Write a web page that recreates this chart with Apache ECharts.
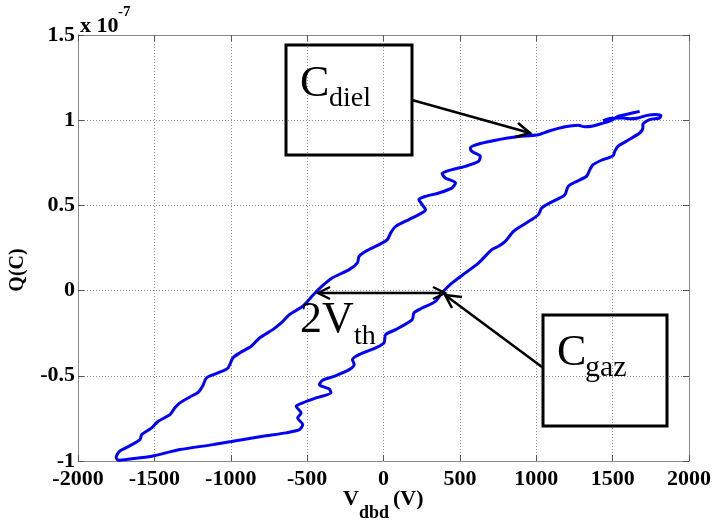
<!DOCTYPE html>
<html>
<head>
<meta charset="utf-8">
<script src="https://cdn.jsdelivr.net/npm/echarts@6/dist/echarts.min.js"></script>
<style>html,body{margin:0;padding:0;background:#fff;}#c{width:714px;height:520px;}</style>
</head>
<body>
<div id="c"></div>
<script>
// Vdbd (V)
var voltage = [1437,1490,1568,1620,1666,1718,1783,1816,1807,1742,1698,1698,1677,1600,1535,1514,1503,1426,1372,1351,1329,1253,1209,1188,1155,1090,1035,1014,970,905,851,797,753,709,623,536,449,383,340,253,199,188,80,14,3,-51,-160,-203,-192,-225,-323,-399,-420,-355,-344,-442,-529,-572,-540,-562,-529,-551,-638,-790,-986,-1116,-1333,-1518,-1659,-1737,-1750,-1729,-1659,-1594,-1583,-1518,-1475,-1398,-1366,-1333,-1268,-1214,-1183,-1159,-1083,-1018,-986,-942,-866,-812,-725,-670,-616,-529,-464,-420,-334,-225,-171,-160,-116,-29,25,47,80,166,231,275,253,231,275,362,449,471,405,383,449,536,623,634,579,568,634,753,862,1014,1079,1188,1274,1318,1361,1426,1492,1535,1600,1677];
// Q (x 1e-7 C)
var charge = [0.998,1.012,1.013,1.008,1.013,1.027,1.033,1.027,1.013,1.004,0.974,0.955,0.925,0.882,0.847,0.817,0.792,0.765,0.739,0.710,0.671,0.636,0.612,0.563,0.544,0.515,0.485,0.446,0.417,0.381,0.348,0.289,0.260,0.241,0.163,0.104,0.045,-0.013,-0.063,-0.102,-0.131,-0.170,-0.229,-0.258,-0.307,-0.336,-0.376,-0.405,-0.434,-0.464,-0.503,-0.526,-0.552,-0.577,-0.600,-0.630,-0.659,-0.679,-0.718,-0.747,-0.786,-0.816,-0.835,-0.855,-0.884,-0.904,-0.933,-0.972,-0.988,-0.995,-0.980,-0.943,-0.910,-0.874,-0.845,-0.806,-0.767,-0.728,-0.688,-0.659,-0.624,-0.597,-0.558,-0.512,-0.483,-0.454,-0.395,-0.366,-0.327,-0.278,-0.229,-0.190,-0.141,-0.092,-0.029,0.012,0.075,0.123,0.163,0.201,0.231,0.270,0.299,0.339,0.377,0.417,0.446,0.475,0.505,0.534,0.553,0.573,0.603,0.632,0.661,0.687,0.710,0.729,0.759,0.788,0.817,0.837,0.863,0.886,0.902,0.915,0.935,0.961,0.970,0.961,0.964,0.980,0.999,1.023,1.036,1.052];
var xTicks = [-2000,-1500,-1000,-500,0,500,1000,1500,2000];
var yTicks = [-1,-0.5,0,0.5,1,1.5];

var pts = voltage.map(function(v,i){return [v, charge[i]];});
var SERIF = '"Liberation Serif","Times New Roman",serif';
var FRAME = '#8a8a8a';
var GRIDC = '#8c8c8c';

function xAxisCfg(pos, labels){
  return {
    type:'value', position:pos, min:xTicks[0], max:xTicks[xTicks.length-1],
    interval:xTicks[1]-xTicks[0],
    axisLine:{show:true, onZero:false, lineStyle:{color:FRAME, width:1}},
    axisTick:{show:true, inside:true, length:6, lineStyle:{color:'#555'}},
    axisLabel:{show:labels, color:'#000', fontFamily:SERIF, fontWeight:'bold', fontSize:22, margin:7,
      showMinLabel:true, showMaxLabel:true, formatter:function(v){return String(v);}},
    splitLine:{show:labels, lineStyle:{color:GRIDC, type:[1,2], width:1}}
  };
}
function yAxisCfg(pos, labels){
  return {
    type:'value', position:pos, min:yTicks[0], max:yTicks[yTicks.length-1],
    interval:yTicks[1]-yTicks[0],
    axisLine:{show:true, onZero:false, lineStyle:{color:FRAME, width:1}},
    axisTick:{show:true, inside:true, length:6, lineStyle:{color:'#555'}},
    axisLabel:{show:labels, color:'#000', fontFamily:SERIF, fontWeight:'bold', fontSize:22, margin:3,
      showMinLabel:true, showMaxLabel:true, formatter:function(v){return String(v);}},
    splitLine:{show:labels, lineStyle:{color:GRIDC, type:[1,2], width:1}}
  };
}

function txt(x,y,t,size,bold,extra){
  var s = {text:t, x:x, y:y, font:(bold?'bold ':'')+size+'px '+SERIF, fill:'#000',
    textAlign:'left', textVerticalAlign:'middle'};
  var o = {type:'text', style:s, z:100};
  if(extra){for(var k in extra) o[k]=extra[k];}
  return o;
}
function line(pts, w){
  return {type:'polyline', shape:{points:pts}, style:{stroke:'#000', lineWidth:w||2, fill:null}, z:100};
}

var chart = echarts.init(document.getElementById('c'), null, {renderer:'canvas'});
chart.setOption({
  animation:false,
  backgroundColor:'#fff',
  grid:{left:78, right:23, top:35, bottom:59, containLabel:false},
  xAxis:[xAxisCfg('bottom', true), xAxisCfg('top', false)],
  yAxis:[yAxisCfg('left', true), yAxisCfg('right', false)],
  series:[{
    type:'line', data:pts, showSymbol:false, smooth:0.25,
    lineStyle:{color:'#0000ff', width:3}, z:10
  }],
  graphic:[
    // exponent
    txt(80,26,'x 10',22,true),
    txt(118,12,'-7',15,true),
    // y title
    txt(18,270,'Q(C)',20,true,{rotation:Math.PI/2, style:{text:'Q(C)', x:0, y:0, font:'bold 20px '+SERIF, fill:'#000', textAlign:'center', textVerticalAlign:'middle'}, x:18, y:270}),
    // x title
    txt(343,499,'V',22,true),
    txt(359,513,'dbd',18,true),
    txt(393,499,'(V)',22,true),
    // C_diel
    {type:'rect', shape:{x:286,y:45,width:126,height:110}, style:{stroke:'#000', lineWidth:3, fill:null}, z:100},
    txt(300,84,'C',44,false),
    txt(329,99,'diel',28,false),
    line([[412,100],[530,133]],2.5),
    line([[518,123],[530,133],[515,137]],2.5),
    // C_gaz
    {type:'rect', shape:{x:543,y:315,width:124,height:111}, style:{stroke:'#000', lineWidth:3, fill:null}, z:100},
    txt(557,353,'C',44,false),
    txt(585,368,'gaz',30,false),
    line([[542,367],[445,295]],2.5),
    line([[462,297],[445,295],[452,308]],2.5),
    // 2Vth
    line([[318,293],[445,293]],2.5),
    line([[330,287],[318,293],[330,299]],2.5),
    line([[433,287],[445,293],[433,299]],2.5),
    txt(300,320,'2V',44,false),
    txt(354,337,'th',28,false)
  ]
});
</script>
</body>
</html>
